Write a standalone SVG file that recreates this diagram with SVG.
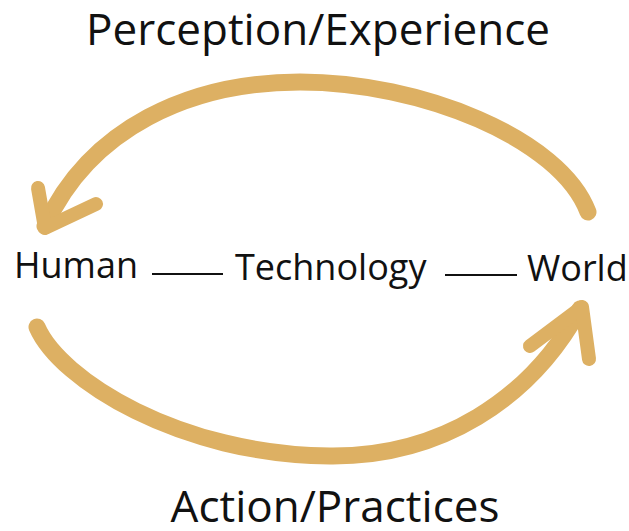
<svg xmlns="http://www.w3.org/2000/svg" width="629" height="531" viewBox="0 0 629 531">
  <style>
    .label { font-family: "Open Sans", "Noto Sans", sans-serif; fill: #111; }
    .big { font-size: 44px; }
    .mid { font-size: 36px; }
    .arc { fill: none; stroke: #DDB063; stroke-width: 17; stroke-linecap: round; stroke-linejoin: round; }
    .head { fill: none; stroke: #DDB063; stroke-width: 14; stroke-linecap: round; stroke-linejoin: round; }
    .link { stroke: #111; stroke-width: 2; }
  </style>
  <rect width="629" height="531" fill="#fff"/>

  <g id="connectors">
    <!-- upper loop: World back to Human -->
    <path class="arc" d="M 588 212 C 560 138, 420 82, 300 82 C 190 82, 90 128, 45 226"/>
    <polyline class="head" points="38,188 45,228 96,204"/>
    <!-- lower loop: Human out to World -->
    <path class="arc" d="M 37 327 C 60 380, 180 455, 330 456 C 440 457, 530 400, 580 309"/>
    <polyline class="head" points="530,346 582,307 589,359"/>
    <!-- links between the three terms -->
    <line class="link" x1="152" y1="274" x2="223" y2="274"/>
    <line class="link" x1="445" y1="275" x2="517" y2="275"/>
  </g>

  <g id="perception">
    <text class="label big" x="318" y="45" text-anchor="middle">Perception/Experience</text>
  </g>
  <g id="action">
    <text class="label big" x="335" y="522" text-anchor="middle">Action/Practices</text>
  </g>
  <g id="human">
    <text class="label mid" x="14" y="278">Human</text>
  </g>
  <g id="technology">
    <text class="label mid" x="235" y="280">Technology</text>
  </g>
  <g id="world">
    <text class="label mid" x="527" y="281">World</text>
  </g>
</svg>
